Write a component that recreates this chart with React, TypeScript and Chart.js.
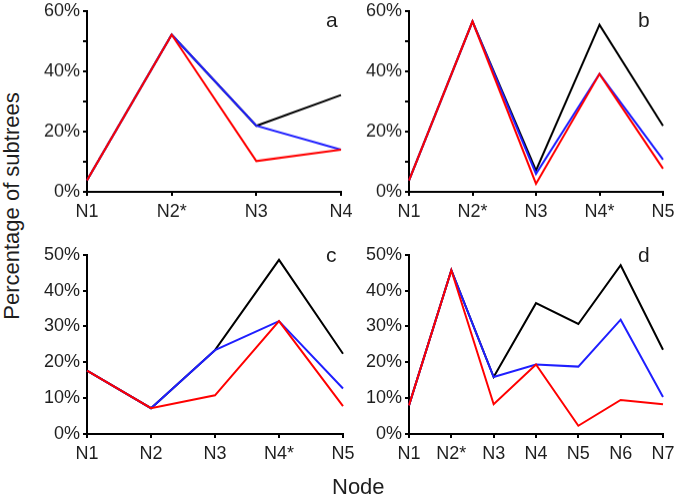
import React, { useEffect, useRef } from "react";
import { Chart, registerables } from "chart.js";

Chart.register(...registerables);

const labelsA = ["N1", "N2*", "N3", "N4"];
const blackA = [3.8, 52.1, 21.9, 32.1];
const blueA = [3.8, 52.1, 21.9, 14.0];
const redA = [3.8, 52.1, 10.2, 14.0];

const labelsB = ["N1", "N2*", "N3", "N4*", "N5"];
const blackB = [3.8, 56.5, 7.1, 55.4, 21.9];
const blueB = [3.8, 56.5, 6.0, 39.1, 10.7];
const redB = [3.8, 56.5, 2.7, 39.1, 7.7];

const labelsC = ["N1", "N2", "N3", "N4*", "N5"];
const blackC = [17.7, 7.2, 23.4, 48.6, 22.4];
const blueC = [17.7, 7.2, 23.4, 31.5, 12.7];
const redC = [17.7, 7.2, 10.8, 31.5, 7.8];

const labelsD = ["N1", "N2*", "N3", "N4", "N5", "N6", "N7"];
const blackD = [8.0, 45.7, 15.9, 36.5, 30.7, 47.1, 23.5];
const blueD = [8.0, 45.7, 15.9, 19.4, 18.8, 31.9, 10.3];
const redD = [8.0, 45.7, 8.3, 19.4, 2.3, 9.5, 8.3];

const yMaxTop = 60;
const yMaxBottom = 50;

const FONT = "'Liberation Sans', Arial, sans-serif";
const TEXT = "#1e1e1e";
const Y_W = 60;
const X_H = 40;
const PAD_T = 12;
const PAD_R = 18;

type PanelProps = {
  labels: string[];
  black: number[];
  blue: number[];
  red: number[];
  yMax: number;
  labelEvery: number;
  area: { left: number; right: number; top: number; bottom: number };
};

function Panel({ labels, black, blue, red, yMax, labelEvery, area }: PanelProps) {
  const ref = useRef<HTMLCanvasElement | null>(null);
  const width = area.right - area.left + Y_W + PAD_R;
  const height = area.bottom - area.top + PAD_T + X_H;
  useEffect(() => {
    if (!ref.current) return;
    const chart = new Chart(ref.current, {
      type: "line",
      data: {
        labels,
        datasets: [
          { data: red, borderColor: "#ff0000", borderWidth: 2, pointRadius: 0, tension: 0, fill: false },
          { data: blue, borderColor: "#1f1fff", borderWidth: 2, pointRadius: 0, tension: 0, fill: false },
          { data: black, borderColor: "#000000", borderWidth: 2, pointRadius: 0, tension: 0, fill: false },
        ],
      },
      options: {
        responsive: false,
        animation: false,
        events: [],
        layout: { padding: { top: PAD_T, right: PAD_R, left: 0, bottom: 0 } },
        plugins: { legend: { display: false }, tooltip: { enabled: false }, title: { display: false } },
        scales: {
          x: {
            type: "category",
            offset: false,
            afterFit: (s: any) => {
              s.height = X_H;
            },
            grid: { display: true, drawOnChartArea: false, drawTicks: true, tickLength: 4, color: "#000", lineWidth: 2 },
            border: { display: true, color: "#000", width: 2 },
            ticks: { color: TEXT, font: { family: FONT, size: 18 }, padding: 5, maxRotation: 0, autoSkip: false },
          },
          y: {
            min: 0,
            max: yMax,
            afterFit: (s: any) => {
              s.width = Y_W;
            },
            grid: { display: true, drawOnChartArea: false, drawTicks: true, tickLength: 4, color: "#000", lineWidth: 2 },
            border: { display: true, color: "#000", width: 2 },
            ticks: {
              stepSize: 10,
              color: TEXT,
              font: { family: FONT, size: 18 },
              padding: 3,
              callback: (v: any) => (Number(v) % labelEvery === 0 ? v + "%" : ""),
            },
          },
        },
      },
    });
    return () => chart.destroy();
  }, []);
  return (
    <canvas
      ref={ref}
      width={width}
      height={height}
      style={{
        position: "absolute",
        left: area.left - Y_W,
        top: area.top - PAD_T,
        width,
        height,
      }}
    />
  );
}

const letterStyle = (left: number, top: number): React.CSSProperties => ({
  position: "absolute",
  left,
  top,
  fontFamily: FONT,
  fontSize: 21,
  color: TEXT,
  lineHeight: "24px",
});

export default function App() {
  return (
    <div
      style={{
        position: "absolute",
        left: 0,
        top: 0,
        width: 679,
        height: 498,
        overflow: "hidden",
        background: "#fff",
      }}
    >
      <Panel labels={labelsA} black={blackA} blue={blueA} red={redA} yMax={yMaxTop} labelEvery={20}
        area={{ left: 87, right: 341, top: 9.3, bottom: 192 }} />
      <Panel labels={labelsB} black={blackB} blue={blueB} red={redB} yMax={yMaxTop} labelEvery={20}
        area={{ left: 409, right: 663, top: 9.3, bottom: 192 }} />
      <Panel labels={labelsC} black={blackC} blue={blueC} red={redC} yMax={yMaxBottom} labelEvery={10}
        area={{ left: 87, right: 343, top: 252.7, bottom: 434.3 }} />
      <Panel labels={labelsD} black={blackD} blue={blueD} red={redD} yMax={yMaxBottom} labelEvery={10}
        area={{ left: 409, right: 663, top: 252.7, bottom: 434.3 }} />
      <div style={letterStyle(326, 8)}>a</div>
      <div style={letterStyle(638, 8)}>b</div>
      <div style={letterStyle(326, 243)}>c</div>
      <div style={letterStyle(638, 243)}>d</div>
      <div
        style={{
          position: "absolute",
          left: 12,
          top: 206,
          transform: "translate(-50%, -50%) rotate(-90deg)",
          whiteSpace: "nowrap",
          fontFamily: FONT,
          fontSize: 22,
          color: TEXT,
          lineHeight: "26px",
        }}
      >
        Percentage of subtrees
      </div>
      <div
        style={{
          position: "absolute",
          left: 332,
          top: 474,
          whiteSpace: "nowrap",
          fontFamily: FONT,
          fontSize: 22,
          color: TEXT,
          lineHeight: "26px",
        }}
      >
        Node
      </div>
    </div>
  );
}
